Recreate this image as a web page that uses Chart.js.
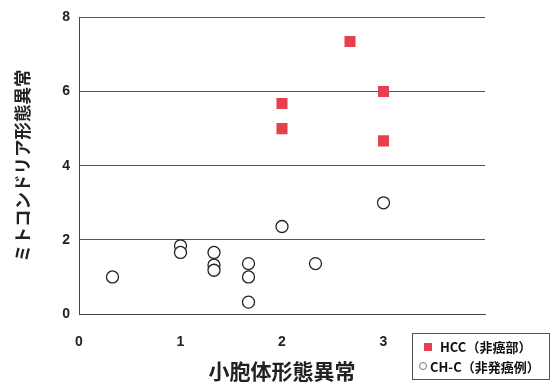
<!DOCTYPE html>
<html>
<head>
<meta charset="utf-8">
<script src="https://cdn.jsdelivr.net/npm/chart.js@4"></script>
<style>
  html, body { margin: 0; padding: 0; background: #fff; }
  #wrap { width: 551px; height: 387px; position: relative; }
</style>
</head>
<body>
<div id="wrap"><canvas id="chart"></canvas></div>
<script>
// Data
const hccX = [2.67, 3, 2, 2, 3];
const hccY = [7.35, 6.0, 5.68, 5.0, 4.67];
const chcX = [0.33, 1, 1, 1.33, 1.33, 1.33, 1.67, 1.67, 1.67, 2, 2.33, 3];
const chcY = [1.0, 1.84, 1.66, 1.66, 1.32, 1.18, 1.36, 1.0, 0.32, 2.36, 1.36, 3.0];
const xTickLabels = ['0', '1', '2', '3'];
const yTickLabels = ['0', '2', '4', '6', '8'];
const seriesLabels = ['HCC（非癌部）', 'CH-C（非発癌例）'];
const xTitle = '小胞体形態異常';
const yTitle = 'ミトコンドリア形態異常';

const RED = '#e5404e';
const JP = '"Noto Sans CJK JP", "Noto Sans", sans-serif';
const NUM = '"Liberation Sans", Arial, sans-serif';

function toPoints(xs, ys) {
  return xs.map((x, i) => ({ x: x, y: ys[i] }));
}

// legend box drawn below the plot, bottom right
const boxLegend = {
  id: 'boxLegend',
  afterDraw(chart) {
    const ctx = chart.ctx;
    const area = chart.chartArea;
    const left = area.right - 73;
    const top = area.bottom + 19;
    const w = 137, h = 46;

    ctx.save();
    ctx.fillStyle = '#fff';
    ctx.fillRect(left, top, w, h);
    ctx.strokeStyle = '#555';
    ctx.lineWidth = 1;
    ctx.strokeRect(left + 0.5, top + 0.5, w, h);

    ctx.font = 'bold 13px ' + JP;
    ctx.textBaseline = 'middle';

    // row 1: red square
    ctx.fillStyle = RED;
    ctx.fillRect(left + 12, top + 10, 8, 8);
    ctx.fillStyle = '#111';
    ctx.fillText(seriesLabels[0], left + 28, top + 14);

    // row 2: open circle
    ctx.beginPath();
    ctx.arc(left + 11, top + 33, 3.5, 0, Math.PI * 2);
    ctx.strokeStyle = '#777';
    ctx.stroke();
    ctx.fillStyle = '#111';
    ctx.fillText(seriesLabels[1], left + 18, top + 34);
    ctx.restore();
  }
};

new Chart(document.getElementById('chart'), {
  type: 'scatter',
  data: {
    datasets: [
      {
        label: seriesLabels[0],
        data: toPoints(hccX, hccY),
        pointStyle: 'rect',
        pointRadius: 7.8,
        backgroundColor: RED,
        borderColor: RED,
        borderWidth: 0
      },
      {
        label: seriesLabels[1],
        data: toPoints(chcX, chcY),
        pointStyle: 'circle',
        pointRadius: 6,
        backgroundColor: '#fff',
        borderColor: '#222',
        borderWidth: 1.3
      }
    ]
  },
  options: {
    responsive: true,
    maintainAspectRatio: false,
    animation: false,
    layout: { padding: { top: 13, right: 66, left: 0, bottom: 0 } },
    plugins: {
      legend: { display: false },
      tooltip: { enabled: false }
    },
    scales: {
      x: {
        type: 'linear',
        min: 0,
        max: 4,
        afterFit: (s) => { s.height = 73; },
        afterBuildTicks: (s) => { s.ticks = [0, 1, 2, 3, 4].map(v => ({ value: v })); },
        grid: { display: false, drawTicks: false },
        border: { display: true, color: '#444', width: 1 },
        ticks: {
          padding: 20,
          color: '#222',
          font: { family: NUM, size: 14, weight: 'bold' },
          callback: (v) => xTickLabels[v] !== undefined ? xTickLabels[v] : ''
        },
        title: {
          display: true,
          text: xTitle,
          color: '#222',
          font: { family: JP, size: 21, weight: 'bold' },
          padding: { top: 0, bottom: 3 }
        }
      },
      y: {
        min: 0,
        max: 8,
        afterFit: (s) => { s.width = 79; },
        afterBuildTicks: (s) => { s.ticks = [0, 2, 4, 6, 8].map(v => ({ value: v })); },
        grid: { color: '#555', lineWidth: 1, drawTicks: false },
        border: { display: true, color: '#444', width: 1 },
        ticks: {
          padding: 9,
          color: '#222',
          font: { family: NUM, size: 14, weight: 'bold' },
          callback: (v) => yTickLabels[v / 2]
        },
        title: {
          display: true,
          text: yTitle,
          color: '#222',
          font: { family: JP, size: 17.5, weight: 'bold' },
          padding: { top: 12, bottom: 0 }
        }
      }
    }
  },
  plugins: [boxLegend]
});
</script>
</body>
</html>
